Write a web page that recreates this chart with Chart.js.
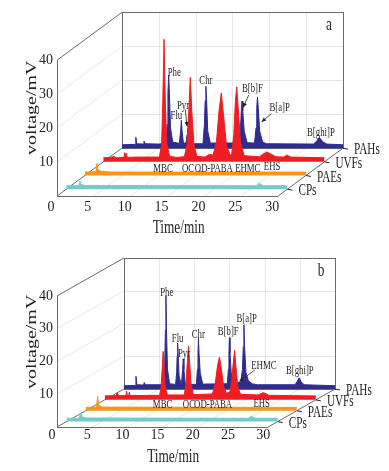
<!DOCTYPE html>
<html>
<head>
<meta charset="utf-8">
<script src="https://cdn.jsdelivr.net/npm/chart.js@4.4.0/dist/chart.umd.min.js"></script>
<style>
  body { margin: 0; background: #fff; }
  canvas { display: block; }
</style>
</head>
<body>
<canvas id="chartA" width="389" height="235"></canvas>
<canvas id="chartB" width="389" height="236"></canvas>
<script>
// series, front to back
const seriesNames = ['CPs', 'PAEs', 'UVFs', 'PAHs'];
const seriesColors = ['#72cbcb', '#f7941d', '#ee1d23', '#2e2d8e'];
const timeTicks = [0, 5, 10, 15, 20, 25, 30];
const voltTicks = [10, 20, 30, 40];

// panel a traces, [time/min, voltage/mV]
const aCPs = [[0, 1.0], [1.7, 1.0], [1.86, 2.3], [2.0, 1.4], [2.5, 1.1], [25.8, 1.0], [26.2, 1.7], [26.7, 1.0], [30, 1.0]];
const aPAEs = [[0, 1.0], [1.5, 1.1], [1.65, 3.6], [1.8, 1.6], [2.3, 1.2], [3.5, 1.0], [15.2, 1.0], [15.6, 1.5], [16.0, 1.0], [30, 1.0]];
const aUVFs = [[0, 1.2], [1.0, 1.3], [1.5, 1.6], [1.7, 1.2], [2.8, 1.3], [2.9, 2.7], [3.0, 1.3], [3.1, 2.6], [3.25, 1.3],
  [4.5, 1.4], [7.6, 1.4], [7.9, 5], [8.07, 18], [8.24, 36.1], [8.41, 18], [8.6, 5.5], [9.0, 1.6], [10.0, 1.3],
  [11.0, 1.5], [11.35, 5], [11.6, 15], [11.8, 24.9], [12.0, 15], [12.3, 5], [12.7, 1.6], [13.8, 1.4], [14.4, 2.2],
  [14.9, 2], [15.35, 6], [15.7, 15], [16.0, 20.3], [16.3, 14], [16.7, 5], [17.2, 2], [17.4, 2], [17.7, 8],
  [17.92, 18], [18.1, 22.1], [18.3, 16], [18.6, 6], [19.1, 1.8], [21.2, 1.5], [21.7, 2.3], [22.2, 2.9],
  [22.8, 2.2], [23.4, 1.5], [24.5, 1.4], [24.9, 2.0], [25.4, 1.4], [30, 1.2]];
const aPAHs = [[0, 1.0], [1.8, 1.1], [1.9, 3.2], [2.0, 1.3], [2.9, 1.2], [3.0, 2.1], [3.15, 1.3], [5.0, 1.2],
  [6.0, 1.4], [6.15, 7], [6.25, 16], [6.35, 21.5], [6.45, 16], [6.6, 6], [6.9, 1.8], [7.8, 1.4], [7.97, 5],
  [8.07, 8.2], [8.17, 5], [8.35, 1.5], [8.7, 1.5], [8.85, 4], [8.96, 5.8], [9.07, 3.5], [9.4, 1.3],
  [11.0, 1.3], [11.2, 7], [11.3, 14], [11.4, 18.2], [11.5, 14], [11.65, 5], [12.0, 1.5],
  [15.9, 1.5], [16.1, 6], [16.2, 11], [16.3, 13.9], [16.4, 11], [16.6, 5], [17.0, 1.6],
  [18.0, 1.5], [18.2, 6], [18.3, 12], [18.4, 15.1], [18.5, 12], [18.7, 5], [19.1, 1.8], [19.6, 1.3],
  [26.0, 1.2], [26.4, 2.0], [26.65, 2.8], [26.8, 3.1], [27.0, 2.6], [27.3, 1.8], [27.8, 1.2], [30, 1.0]];

// panel b traces
const bCPs = [[0, 1.0], [1.8, 1.0], [2.0, 2.6], [2.2, 1.4], [2.8, 1.1], [25.8, 1.0], [26.3, 1.6], [26.8, 1.0], [30, 1.0]];
const bPAEs = [[0, 1.0], [1.55, 1.1], [1.7, 4.5], [1.85, 1.6], [2.4, 1.1], [30, 1.0]];
const bUVFs = [[0, 1.2], [1.6, 1.3], [1.8, 2.3], [1.95, 1.3], [3.0, 1.3], [3.1, 2.7], [3.2, 1.4], [3.4, 1.3],
  [3.5, 2.4], [3.6, 1.3], [7.8, 1.4], [8.0, 4], [8.15, 9], [8.3, 14.8], [8.45, 9], [8.6, 4], [8.9, 1.5],
  [11.3, 1.5], [11.55, 5], [11.72, 11], [11.9, 16.4], [12.08, 11], [12.25, 5], [12.6, 1.6], [15.3, 1.8],
  [15.7, 5], [16.0, 10], [16.3, 13.1], [16.6, 9], [16.9, 4], [17.3, 2], [17.8, 2.5], [18.05, 6], [18.25, 11],
  [18.45, 15.1], [18.65, 10], [18.9, 4], [19.3, 1.7], [21.8, 1.5], [22.2, 1.9], [22.5, 2.2], [22.9, 1.9],
  [23.3, 1.4], [30, 1.2]];
const bPAHs = [[0, 1.0], [1.6, 1.1], [1.72, 3.9], [1.85, 1.3], [2.8, 1.2], [2.9, 2.0], [3.05, 1.3], [5.65, 1.3],
  [5.8, 7], [5.9, 18], [5.98, 28.4], [6.06, 18], [6.2, 6], [6.5, 1.6], [7.35, 1.4], [7.5, 5], [7.57, 10],
  [7.64, 14.0], [7.72, 10], [7.85, 4], [8.1, 1.7], [8.2, 2], [8.35, 6], [8.44, 9.2], [8.53, 6], [8.7, 2],
  [8.9, 1.4], [10.3, 1.4], [10.45, 6], [10.53, 11], [10.6, 15.5], [10.68, 11], [10.85, 5], [11.2, 1.5],
  [14.7, 1.6], [14.85, 6], [14.93, 11], [15.0, 15.7], [15.08, 11], [15.25, 5], [15.6, 2], [16.6, 2],
  [16.85, 6], [16.97, 13], [17.06, 19.6], [17.15, 13], [17.35, 5], [17.7, 2.5], [18.2, 1.6], [19.0, 1.3],
  [24.3, 1.3], [24.6, 2.2], [24.9, 3.4], [25.2, 2.2], [25.6, 1.3], [30, 1.0]];

// peak names, placed in the frame of their series (s = index in seriesNames)
const aNotes = [
  {text: 'Phe', s: 3, t: 7.1, v: 22.1}, {text: 'Flu', s: 3, t: 7.4, v: 9.5},
  {text: 'Pyr', s: 3, t: 8.3, v: 12.4}, {text: 'Chr', s: 3, t: 11.4, v: 20},
  {text: 'B[b]F', s: 3, t: 17.7, v: 17.6}, {text: 'B[a]P', s: 3, t: 21.4, v: 12},
  {text: 'B[ghi]P', s: 3, t: 27.0, v: 4.5},
  {text: 'MBC', s: 2, t: 8.1, v: -1.9}, {text: 'OC', s: 2, t: 11.5, v: -1.9},
  {text: 'OD-PABA', s: 2, t: 15.0, v: -1.9}, {text: 'EHMC', s: 2, t: 19.6, v: -1.9},
  {text: 'EHS', s: 2, t: 22.9, v: -1.3}
];
const aArrows = [
  {s: 3, from: [8.6, 11.4], to: [8.85, 6.4]},
  {s: 3, from: [17.2, 15.6], to: [16.45, 12.0]},
  {s: 3, from: [20.3, 10.2], to: [18.95, 7.7]}
];
const bNotes = [
  {text: 'Phe', s: 3, t: 6.1, v: 29.3}, {text: 'Flu', s: 3, t: 7.64, v: 15.3},
  {text: 'Pyr', s: 3, t: 8.54, v: 10.7}, {text: 'Chr', s: 3, t: 10.57, v: 16.6},
  {text: 'B[b]F', s: 3, t: 14.83, v: 17.5}, {text: 'B[a]P', s: 3, t: 17.44, v: 21.4},
  {text: 'EHMC', s: 3, t: 19.9, v: 7.2}, {text: 'B[ghi]P', s: 3, t: 25.0, v: 5.6},
  {text: 'MBC', s: 2, t: 8.22, v: -1.4}, {text: 'OC', s: 2, t: 11.96, v: -1.4},
  {text: 'OD-PABA', s: 2, t: 15.4, v: -1.4}, {text: 'EHS', s: 2, t: 22.3, v: -1.2}
];
const bArrows = [
  {s: 3, from: [18.6, 5.8], to: [16.4, 2.3]}
];

const depths = [0.143, 0.429, 0.714, 1.0];
const serif = '"Liberation Serif", "Times New Roman", serif';
const ink = '#231f20';
const squash = 0.7;

function squashText(ctx, text, x, y, size, align, rotate) {
  ctx.save();
  ctx.translate(x, y);
  ctx.scale(squash, 1);
  if (rotate) ctx.rotate(-Math.PI / 2);
  ctx.font = size + 'px ' + serif;
  ctx.fillStyle = ink;
  ctx.textAlign = align || 'center';
  ctx.textBaseline = 'middle';
  ctx.fillText(text, 0, 0);
  ctx.restore();
}

function frame3d(panel) {
  const geometry = chart => {
    const X = t => chart.scales.x.getPixelForValue(t);
    const Y = v => chart.scales.y.getPixelForValue(v);
    return {X, Y, dx: X(panel.depthX) - X(0), dy: Y(panel.depthY) - Y(0)};
  };
  return {
    id: 'frame3d',
    beforeDatasetsDraw(chart) {
      const ctx = chart.ctx;
      const {X, Y, dx, dy} = geometry(chart);
      const r = v => Math.round(v) + 0.5;
      const line = (x1, y1, x2, y2) => {
        ctx.beginPath();
        ctx.moveTo(x1, y1);
        ctx.lineTo(x2, y2);
        ctx.stroke();
      };
      ctx.save();
      ctx.lineWidth = 1;
      // grid on back wall, floor and side wall
      ctx.strokeStyle = '#e6e6e6';
      timeTicks.slice(1, -1).forEach(t => {
        line(r(X(t) + dx), Y(0) + dy, r(X(t) + dx), Y(40) + dy);
        line(X(t), Y(0), X(t) + dx, Y(0) + dy);
      });
      voltTicks.slice(0, -1).forEach(v => {
        line(X(0) + dx, r(Y(v) + dy), X(30) + dx, r(Y(v) + dy));
        line(X(0), Y(v), X(0) + dx, Y(v) + dy);
      });
      // box edges
      ctx.strokeStyle = '#6a6a6a';
      line(r(X(0)), Y(0), r(X(0)), Y(40));
      line(X(0), r(Y(0)), X(30), r(Y(0)));
      line(X(0), Y(0), X(0) + dx, Y(0) + dy);
      line(X(0), Y(40), X(0) + dx, Y(40) + dy);
      line(X(30), Y(0), X(30) + dx, Y(0) + dy);
      ctx.strokeRect(r(X(0) + dx), r(Y(40) + dy), Math.round(X(30) - X(0)), Math.round(Y(0) - Y(40)));
      // depth ticks for the series
      ctx.strokeStyle = '#222';
      depths.forEach(f => {
        const px = X(30) + f * dx, py = Y(0) + f * dy;
        line(px, py, px + 5, py + 1);
      });
      ctx.restore();
    },
    afterDatasetsDraw(chart) {
      const ctx = chart.ctx;
      const {X, Y, dx, dy} = geometry(chart);
      const at = (s, t, v) => [
        chart.scales['x' + seriesNames[s]].getPixelForValue(t),
        chart.scales['y' + seriesNames[s]].getPixelForValue(v)
      ];
      panel.notes.forEach(n => {
        const [x, y] = at(n.s, n.t, n.v);
        squashText(ctx, n.text, x, y, 12.5);
      });
      ctx.save();
      ctx.strokeStyle = ink;
      ctx.fillStyle = ink;
      ctx.lineWidth = 0.8;
      panel.arrows.forEach(a => {
        const [x1, y1] = at(a.s, a.from[0], a.from[1]);
        const [x2, y2] = at(a.s, a.to[0], a.to[1]);
        const ang = Math.atan2(y2 - y1, x2 - x1);
        ctx.beginPath();
        ctx.moveTo(x1, y1);
        ctx.lineTo(x2, y2);
        ctx.stroke();
        ctx.beginPath();
        ctx.moveTo(x2, y2);
        ctx.lineTo(x2 - 4.5 * Math.cos(ang) + 2 * Math.sin(ang), y2 - 4.5 * Math.sin(ang) - 2 * Math.cos(ang));
        ctx.lineTo(x2 - 4.5 * Math.cos(ang) - 2 * Math.sin(ang), y2 - 4.5 * Math.sin(ang) + 2 * Math.cos(ang));
        ctx.closePath();
        ctx.fill();
      });
      ctx.restore();
      // series names along the right depth edge
      seriesNames.forEach((name, i) => {
        const f = depths[i];
        squashText(ctx, name, X(30) + f * dx + 11, Y(0) + f * dy + 2, 16, 'left');
      });
      squashText(ctx, 'Time/min', X(16.5), Y(0) + panel.titleDy, 19);
      squashText(ctx, 'voltage/mV', X(0) - 25, Y(26), 20, 'center', true);
      squashText(ctx, panel.letter, X(30) + dx - 14, Y(40) + dy + 13, 19);
    }
  };
}

function buildChart(panel) {
  const scales = {
    x: {
      type: 'linear', bounds: 'data', min: 0, max: 30 + panel.depthX,
      grid: {display: false, drawTicks: false}, border: {display: false},
      afterBuildTicks: axis => { axis.ticks = timeTicks.map(v => ({value: v})); },
      afterFit: axis => { axis.height = panel.axisHeight; },
      ticks: {autoSkip: false, maxRotation: 0, padding: panel.tickPad, labelOffset: panel.labelOffset,
        color: ink, font: {family: serif, size: 14}}
    },
    y: {
      type: 'linear', bounds: 'data', min: 0, max: 40 + panel.depthY,
      grid: {display: false, drawTicks: false}, border: {display: false},
      afterBuildTicks: axis => { axis.ticks = voltTicks.map(v => ({value: v})); },
      afterFit: axis => { axis.width = 57; },
      ticks: {padding: 4, color: ink, font: {family: serif, size: 14}}
    }
  };
  // every series gets its own pair of scales, shifted back by its depth
  seriesNames.forEach((name, i) => {
    const f = depths[i];
    scales['x' + name] = {type: 'linear', display: false, bounds: 'data',
      min: -f * panel.depthX, max: 30 + panel.depthX - f * panel.depthX};
    scales['y' + name] = {type: 'linear', display: false, bounds: 'data',
      min: -f * panel.depthY, max: 40 + panel.depthY - f * panel.depthY};
  });

  return new Chart(document.getElementById(panel.canvas), {
    type: 'line',
    data: {
      datasets: seriesNames.map((name, i) => ({
        label: name,
        data: panel.traces[i].map(([t, v]) => ({x: t, y: v})),
        xAxisID: 'x' + name,
        yAxisID: 'y' + name,
        borderColor: seriesColors[i],
        backgroundColor: seriesColors[i],
        borderWidth: 1,
        pointRadius: 0,
        tension: 0,
        fill: 'origin'
      }))
    },
    options: {
      responsive: false,
      animation: false,
      events: [],
      layout: {padding: {left: 0, top: panel.padTop, right: panel.padRight, bottom: 0}},
      plugins: {legend: {display: false}, tooltip: {enabled: false}},
      scales: scales
    },
    plugins: [frame3d(panel)]
  });
}

buildChart({
  canvas: 'chartA', letter: 'a', depthX: 8.8, depthY: 14.1,
  padTop: 12, padRight: 46, axisHeight: 39, tickPad: 3, labelOffset: -6, titleDy: 32,
  traces: [aCPs, aPAEs, aUVFs, aPAHs], notes: aNotes, arrows: aArrows
});
buildChart({
  canvas: 'chartB', letter: 'b', depthX: 9.5, depthY: 11.6,
  padTop: 23, padRight: 54, axisHeight: 44, tickPad: 0, labelOffset: -5, titleDy: 30,
  traces: [bCPs, bPAEs, bUVFs, bPAHs], notes: bNotes, arrows: bArrows
});
</script>
</body>
</html>
